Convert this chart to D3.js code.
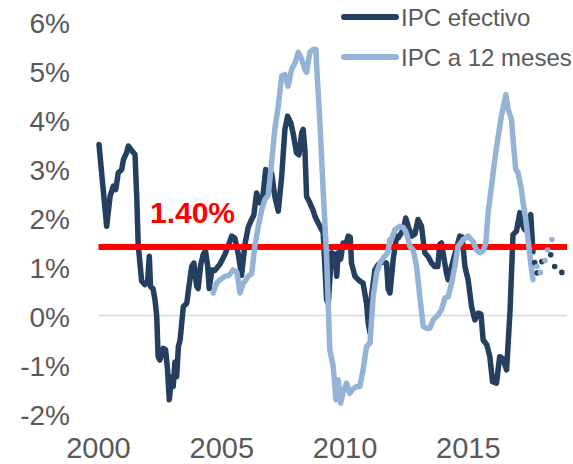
<!DOCTYPE html>
<html>
<head>
<meta charset="utf-8">
<script src="https://cdn.jsdelivr.net/npm/d3@7"></script>
<style>
  html, body { margin: 0; padding: 0; background: #ffffff; }
  svg { display: block; }
</style>
</head>
<body>
<svg id="chart" width="573" height="464"></svg>
<script>
// ---------- DATA ----------
const seriesNames = ["IPC efectivo", "IPC a 12 meses"];
const targetValue = 1.4;
const targetLabel = "1.40%";
const yTicks = [-2, -1, 0, 1, 2, 3, 4, 5, 6];
const xTicks = [2000, 2005, 2010, 2015];

// IPC efectivo (decimal year, %)
const effDates = [2000.02,2000.33,2000.47,2000.60,2000.70,2000.80,2000.94,2001.01,2001.14,2001.21,2001.37,2001.48,2001.55,2001.61,2001.75,2001.88,2001.99,2002.06,2002.11,2002.21,2002.29,2002.36,2002.42,2002.49,2002.63,2002.72,2002.80,2002.87,2002.97,2003.03,2003.10,2003.17,2003.24,2003.31,2003.44,2003.58,2003.67,2003.78,2003.87,2003.98,2004.04,2004.15,2004.25,2004.34,2004.43,2004.49,2004.60,2004.72,2004.93,2005.13,2005.26,2005.40,2005.53,2005.67,2005.80,2005.94,2006.07,2006.21,2006.30,2006.41,2006.55,2006.67,2006.78,2006.88,2007.02,2007.15,2007.29,2007.43,2007.56,2007.67,2007.80,2007.90,2008.03,2008.13,2008.24,2008.30,2008.37,2008.44,2008.57,2008.70,2008.78,2008.91,2009.05,2009.11,2009.25,2009.32,2009.45,2009.59,2009.66,2009.72,2009.82,2009.92,2010.03,2010.13,2010.21,2010.26,2010.40,2010.60,2010.73,2010.87,2010.94,2011.01,2011.07,2011.21,2011.34,2011.53,2011.68,2011.75,2011.82,2011.95,2012.09,2012.15,2012.36,2012.46,2012.56,2012.70,2012.83,2012.96,2013.10,2013.23,2013.37,2013.51,2013.64,2013.76,2013.84,2013.91,2014.00,2014.11,2014.18,2014.32,2014.52,2014.65,2014.75,2014.86,2014.99,2015.13,2015.26,2015.40,2015.51,2015.60,2015.75,2015.87,2015.98,2016.14,2016.27,2016.40,2016.55,2016.69,2016.81,2016.95,2017.09,2017.15,2017.29,2017.41,2017.53,2017.62];
const effValues = [3.49,1.82,2.43,2.64,2.57,2.91,2.98,3.18,3.32,3.46,3.35,3.29,2.43,1.45,0.70,0.63,0.68,1.21,0.59,0.55,0.32,0.00,-0.84,-0.91,-0.67,-0.70,-1.11,-1.72,-1.25,-1.45,-0.95,-1.25,-0.63,-0.50,0.18,0.25,0.60,1.00,1.07,0.60,0.55,1.05,1.25,1.32,1.00,0.55,0.93,0.92,1.05,1.25,1.42,1.62,1.58,1.25,0.82,1.45,1.80,1.96,2.05,2.50,2.30,2.45,2.98,2.50,2.91,2.43,2.13,2.84,3.80,4.07,3.93,3.70,3.32,3.28,3.73,3.80,3.39,2.43,2.30,2.15,2.02,1.89,1.75,1.70,0.32,0.25,1.28,1.25,0.80,1.28,1.15,1.48,1.45,1.62,1.60,1.07,0.80,0.70,0.66,0.25,-0.16,-0.36,0.39,0.93,1.04,1.10,1.07,0.53,0.46,1.14,1.62,1.58,1.75,1.99,1.82,1.62,1.66,1.96,1.82,1.28,1.20,1.07,1.00,1.00,1.45,1.48,1.20,0.87,0.73,1.00,1.38,1.62,1.60,1.00,0.73,0.18,-0.09,0.05,0.03,-0.50,-0.60,-0.84,-1.35,-1.38,-0.84,-0.88,-1.11,0.10,1.65,1.72,2.10,1.89,1.75,1.80,2.06,1.30];

// IPC a 12 meses (decimal year, %)
const expDates = [2004.65,2004.79,2004.93,2005.13,2005.29,2005.46,2005.61,2005.74,2005.87,2005.94,2006.07,2006.21,2006.34,2006.48,2006.62,2006.75,2006.88,2007.02,2007.15,2007.29,2007.43,2007.56,2007.69,2007.83,2007.97,2008.10,2008.24,2008.37,2008.44,2008.57,2008.71,2008.82,2008.84,2008.98,2009.11,2009.25,2009.38,2009.52,2009.63,2009.72,2009.82,2009.93,2010.06,2010.19,2010.32,2010.47,2010.60,2010.73,2010.87,2010.94,2011.01,2011.14,2011.28,2011.41,2011.61,2011.73,2011.82,2011.88,2012.02,2012.22,2012.36,2012.49,2012.63,2012.76,2012.90,2013.03,2013.17,2013.30,2013.44,2013.57,2013.77,2013.91,2014.05,2014.18,2014.32,2014.45,2014.58,2014.79,2014.99,2015.19,2015.33,2015.46,2015.60,2015.71,2015.80,2015.94,2016.07,2016.21,2016.34,2016.45,2016.52,2016.61,2016.75,2016.81,2016.92,2017.02,2017.15,2017.22,2017.33,2017.42,2017.53,2017.62];
const expValues = [0.46,0.66,0.73,0.80,0.82,0.93,0.88,0.46,0.66,0.70,0.80,0.85,1.41,1.82,2.16,2.37,2.45,3.12,3.80,4.27,4.89,4.92,4.68,5.02,5.16,5.37,5.23,5.02,4.96,5.37,5.43,5.43,5.16,3.93,2.57,1.21,-0.70,-1.04,-1.72,-1.31,-1.79,-1.55,-1.38,-1.59,-1.50,-1.45,-1.45,-1.11,-0.63,-0.60,-0.56,0.39,0.87,1.07,1.21,1.28,1.55,1.55,1.75,1.82,1.80,1.68,1.41,1.34,1.00,0.39,-0.22,-0.26,-0.26,-0.09,0.01,0.12,0.36,0.38,0.66,1.00,1.41,1.55,1.62,1.51,1.34,1.28,1.32,1.48,2.10,2.64,3.18,3.66,4.07,4.34,4.51,4.21,4.00,3.60,2.98,2.91,2.57,2.30,1.96,1.55,1.07,0.73];

// Forecast points (shown as dots)
const effForecastDates = [2017.69, 2017.79, 2017.98, 2018.34, 2018.50, 2018.79];
const effForecastValues = [1.08, 0.87, 1.10, 1.24, 1.00, 0.88];
const expForecastDates = [2017.78, 2017.92, 2018.11, 2018.21, 2018.39];
const expForecastValues = [1.00, 0.88, 1.12, 1.34, 1.55];

// ---------- CHART ----------
const darkColor = "#243F60";
const lightColor = "#95B3D7";
const textColor = "#595959";
const svg = d3.select("#chart");

const x = d3.scaleLinear().domain([2000, 2019]).range([98.5, 567]);
const y = d3.scaleLinear().domain([-2, 6]).range([413.5, 21.5]);

// zero line
svg.append("line")
  .attr("x1", x(2000)).attr("x2", x(2019))
  .attr("y1", y(0)).attr("y2", y(0))
  .attr("stroke", "#D9D9D9").attr("stroke-width", 1.5);

// y labels
svg.append("g").selectAll("text").data(yTicks).join("text")
  .attr("x", 70).attr("y", d => y(d) + 11.5)
  .attr("text-anchor", "end")
  .attr("font-family", "Liberation Sans, Arial, sans-serif")
  .attr("font-size", 28).attr("fill", textColor)
  .text(d => d + "%");

// x labels
svg.append("g").selectAll("text").data(xTicks).join("text")
  .attr("x", d => x(d)).attr("y", 457.5)
  .attr("text-anchor", "middle")
  .attr("font-family", "Liberation Sans, Arial, sans-serif")
  .attr("font-size", 29).attr("fill", textColor)
  .text(d => d);

const line = d3.line().x(d => x(d[0])).y(d => y(d[1]));
const effData = effDates.map((d, i) => [d, effValues[i]]);
const expData = expDates.map((d, i) => [d, expValues[i]]);

svg.append("path").datum(effData)
  .attr("d", line).attr("fill", "none")
  .attr("stroke", darkColor).attr("stroke-width", 5.5)
  .attr("stroke-linejoin", "round").attr("stroke-linecap", "round");

// target line
svg.append("line")
  .attr("x1", x(2000)).attr("x2", x(2019))
  .attr("y1", y(targetValue)).attr("y2", y(targetValue))
  .attr("stroke", "#FF0000").attr("stroke-width", 6);

svg.append("path").datum(expData)
  .attr("d", line).attr("fill", "none")
  .attr("stroke", lightColor).attr("stroke-width", 5.5)
  .attr("stroke-linejoin", "round").attr("stroke-linecap", "round");

// forecast dots
svg.append("g").selectAll("circle").data(effForecastDates.map((d, i) => [d, effForecastValues[i]])).join("circle")
  .attr("cx", d => x(d[0])).attr("cy", d => y(d[1])).attr("r", 2.8).attr("fill", darkColor);
svg.append("g").selectAll("circle").data(expForecastDates.map((d, i) => [d, expForecastValues[i]])).join("circle")
  .attr("cx", d => x(d[0])).attr("cy", d => y(d[1])).attr("r", 2.8).attr("fill", lightColor);

// target label
svg.append("text")
  .attr("x", 192.5).attr("y", 223)
  .attr("text-anchor", "middle")
  .attr("font-family", "Liberation Sans, Arial, sans-serif")
  .attr("font-weight", "bold")
  .attr("font-size", 30).attr("fill", "#FF0000")
  .text(targetLabel);

// legend
const legend = svg.append("g");
const legendRows = [{name: seriesNames[0], color: darkColor, y: 17}, {name: seriesNames[1], color: lightColor, y: 57}];
legendRows.forEach(r => {
  legend.append("line")
    .attr("x1", 344).attr("x2", 396).attr("y1", r.y).attr("y2", r.y)
    .attr("stroke", r.color).attr("stroke-width", 6).attr("stroke-linecap", "round");
  legend.append("text")
    .attr("x", 401).attr("y", r.y + 8.5)
    .attr("font-family", "Liberation Sans, Arial, sans-serif")
    .attr("font-size", 24).attr("fill", textColor)
    .text(r.name);
});
</script>
</body>
</html>
